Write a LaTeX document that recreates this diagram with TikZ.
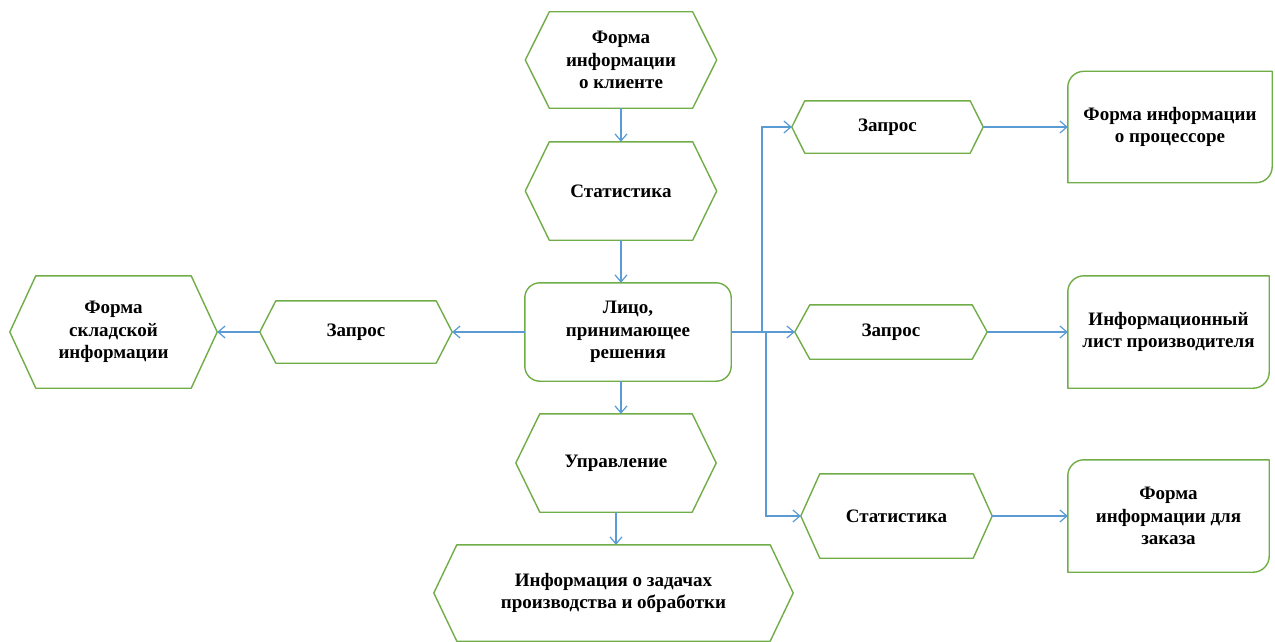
\documentclass[tikz,border=0pt]{standalone}
\usepackage{fontspec}
\setmainfont{Liberation Serif}
\usetikzlibrary{arrows.meta,positioning}

\definecolor{shapegreen}{RGB}{112,173,71}
\definecolor{linkblue}{RGB}{91,155,213}

% hexagon outline around a (plain rectangular) node: #1 = node name, #2 = corner inset
\newcommand\hexframe[2]{%
  \draw[frame] ([xshift=#2]#1.north west) -- ([xshift=-#2]#1.north east) -- (#1.east)
    -- ([xshift=-#2]#1.south east) -- ([xshift=#2]#1.south west) -- (#1.west) -- cycle;}
% box with rounded top-left and bottom-right corners
\newcommand\diagframe[1]{%
  \draw[frame] (#1.west) [rounded corners=16pt] -- (#1.north west) -- (#1.north)
    [sharp corners] -- (#1.north east) -- (#1.east)
    [rounded corners=16pt] -- (#1.south east) -- (#1.south)
    [sharp corners] -- (#1.south west) -- cycle;}

\begin{document}
\begin{tikzpicture}[x=1pt,y=-1pt,
  frame/.style={draw=shapegreen, line width=1.4pt, line join=round},
  txt/.style={inner sep=0pt, align=center,
    font=\bfseries\fontsize{19}{22.5}\selectfont},
  arr/.style={draw=linkblue, line width=1.2pt,
    -{Straight Barb[length=7pt,width=12pt]}}]

\fill[white] (0,0) rectangle (1275,642);
\useasboundingbox (0,0) rectangle (1275,642);

% central column
\node[txt, minimum width=191pt, minimum height=96pt] (client) at (621,60)
  {Форма\\информации\\о клиенте};
\node[txt, minimum width=191pt, minimum height=98pt] (stat) at (621,191)
  {Статистика};
\node[txt, minimum width=206pt, minimum height=98pt] (lico) at (628,332)
  {Лицо,\\принимающее\\решения};
\node[txt, minimum width=200pt, minimum height=98pt] (upr) at (616,463)
  {Управление};
\node[txt, minimum width=359pt, minimum height=96pt] (tasks) at (613.5,593)
  {Информация о задачах\\производства и обработки};

% left branch
\node[txt, minimum width=192pt, minimum height=62pt] (zapL) at (356,332)
  {Запрос};
\node[txt, minimum width=207pt, minimum height=112pt] (sklad) at (113.5,332)
  {Форма\\складской\\информации};

% right branch
\node[txt, minimum width=191pt, minimum height=52pt] (zap1) at (887.5,127)
  {Запрос};
\node[txt, minimum width=192pt, minimum height=54pt] (zap2) at (891,332)
  {Запрос};
\node[txt, minimum width=191pt, minimum height=84pt] (stat2) at (896.5,516)
  {Статистика};
\node[txt, minimum width=204pt, minimum height=111pt] (proc) at (1170,127)
  {Форма информации\\о процессоре};
\node[txt, minimum width=201pt, minimum height=112pt] (maker) at (1168.5,332)
  {Информационный\\лист производителя};
\node[txt, minimum width=201pt, minimum height=112pt] (order) at (1168.5,516)
  {Форма\\информации для\\заказа};

% outlines
\hexframe{client}{24pt}
\hexframe{stat}{24pt}
\draw[frame, rounded corners=15pt] (lico.north west) rectangle (lico.south east);
\hexframe{upr}{24pt}
\hexframe{tasks}{23pt}
\hexframe{zapL}{16pt}
\hexframe{sklad}{26pt}
\hexframe{zap1}{13pt}
\hexframe{zap2}{15pt}
\hexframe{stat2}{19pt}
\diagframe{proc}
\diagframe{maker}
\diagframe{order}

% connectors
\draw[arr] (client.south) -- (client.south |- stat.north);
\draw[arr] (stat.south) -- (stat.south |- lico.north);
\draw[arr] (lico.south -| stat.south) -- (upr.north -| stat.south);
\draw[arr] (upr.south) -- (upr.south |- tasks.north);

\draw[arr] (lico.west) -- (zapL.east);
\draw[arr] (zapL.west) -- (sklad.east);

\coordinate (j1) at (762,332);
\coordinate (j2) at (766,332);
\draw[arr] (lico.east) -- (zap2.west);
\draw[arr] (j1) |- (zap1.west);
\draw[arr] (j2) |- (stat2.west);

\draw[arr] (zap1.east) -- (proc.west);
\draw[arr] (zap2.east) -- (maker.west);
\draw[arr] (stat2.east) -- (order.west);
\end{tikzpicture}
\end{document}
